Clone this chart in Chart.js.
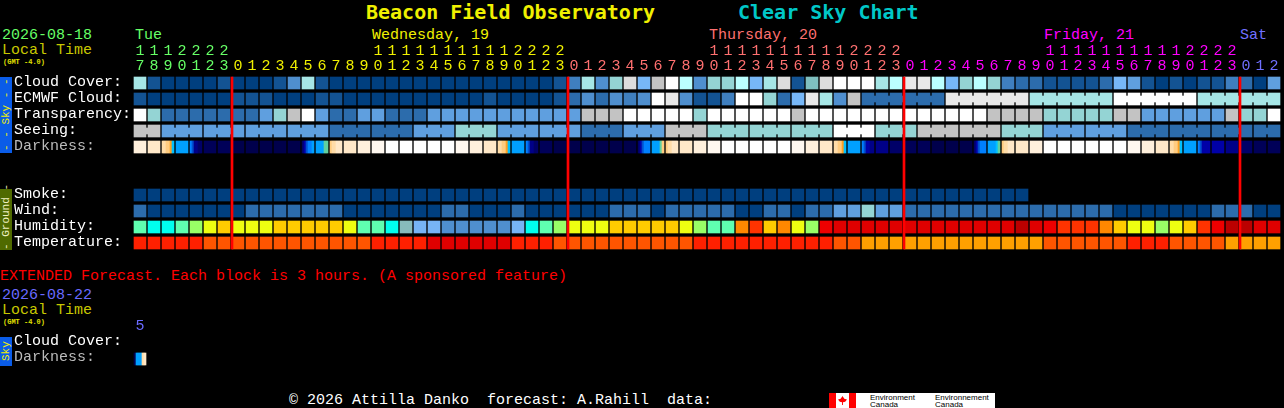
<!DOCTYPE html>
<html>
<head>
<meta charset="utf-8">
<title>Beacon Field Observatory Clear Sky Chart</title>
<script src="https://cdn.jsdelivr.net/npm/chart.js@4/dist/chart.umd.min.js"></script>
<style>
  html, body { margin: 0; background: #000; overflow: hidden; }
  #page { position: relative; width: 1284px; height: 408px; font-family: "Liberation Mono", monospace; font-size: 15px; }
  #page canvas { position: absolute; left: 0; }
  .t { position: absolute; white-space: pre; line-height: 15px; }
  .title { font-family: "DejaVu Sans Mono", monospace; font-weight: bold; font-size: 20px; line-height: 24px; }
  .gmt { font-size: 7px; line-height: 8px; font-weight: bold; color: #e0e000; }
  .strip { position: absolute; left: 0; width: 12px; writing-mode: vertical-rl; transform: rotate(180deg); text-align: center; font-size: 11px; line-height: 12px; white-space: pre; }
  .logo { position: absolute; left: 829px; top: 393px; width: 166px; height: 15px; background: #fff; overflow: hidden; }
  .logo div { position: absolute; }
  .logo .w { font: 8px/7px "Liberation Sans", sans-serif; color: #000; white-space: pre; top: 1px; }
</style>
</head>
<body>
<div id="page">
  <div class="t title" style="left:366px;top:0;color:#f0f000">Beacon Field Observatory</div>
  <div class="t title" style="left:738px;top:0;color:#00c8c8">Clear Sky Chart</div>

  <div class="t" style="left:2px;top:28px;color:#66ff66">2026-08-18</div>
  <div class="t" style="left:2px;top:43px;color:#c8c800">Local Time</div>
  <div class="t gmt" style="left:3px;top:58px">(GMT -4.0)</div>
  <div class="t" style="left:135px;top:28px;color:#66ff66">Tue</div>
  <div class="t" style="left:372px;top:28px;color:#f0f000">Wednesday, 19</div>
  <div class="t" style="left:709px;top:28px;color:#ff7070">Thursday, 20</div>
  <div class="t" style="left:1044px;top:28px;color:#ff00ff">Friday, 21</div>
  <div class="t" style="left:1240px;top:28px;color:#7070ff">Sat</div>

  <div class="strip" style="top:77px;height:76px;background:#0a5ce8;color:#f0f000">- - Sky - -</div>
  <div class="strip" style="top:189px;height:61px;background:#4f6a00;color:#f0f0c0">- Ground -</div>

  <canvas id="forecast" width="1284" height="252" style="top:0"></canvas>

  <div class="t" style="left:0;top:269px;color:#ff0000">EXTENDED Forecast. Each block is 3 hours. (A sponsored feature)</div>
  <div class="t" style="left:2px;top:288px;color:#6a6aff">2026-08-22</div>
  <div class="t" style="left:2px;top:303px;color:#c8c800">Local Time</div>
  <div class="t gmt" style="left:3px;top:318px">(GMT -4.0)</div>
  <div class="strip" style="top:337px;height:29px;background:#0a5ce8;color:#f0f000">Sky</div>

  <canvas id="extended" width="1284" height="68" style="top:300px"></canvas>

  <div class="t" style="left:289px;top:393px;color:#fff">© 2026 Attilla Danko  forecast: A.Rahill  data:</div>
  <div class="logo">
    <div style="left:0;top:0;width:7px;height:15px;background:#f00"></div>
    <div style="left:20px;top:0;width:7px;height:15px;background:#f00"></div>
    <div style="left:9px;top:3px;width:9px;height:9px;background:#f00;clip-path:polygon(50% 0,70% 30%,100% 40%,80% 65%,55% 70%,55% 100%,45% 100%,45% 70%,20% 65%,0 40%,30% 30%)"></div>
    <div class="w" style="left:41px">Environment
Canada</div>
    <div class="w" style="left:106px">Environnement
Canada</div>
  </div>
</div>

<script>
const hours = [17,18,19,20,21,22,23,
  0,1,2,3,4,5,6,7,8,9,10,11,12,13,14,15,16,17,18,19,20,21,22,23,
  0,1,2,3,4,5,6,7,8,9,10,11,12,13,14,15,16,17,18,19,20,21,22,23,
  0,1,2,3,4,5,6,7,8,9,10,11,12,13,14,15,16,17,18,19,20,21,22,23,
  0,1,2]
const midnights = [7, 31, 55, 79]
const dayColors = ['#66ff66', '#f0f000', '#ff7070', '#ff00ff', '#7070ff']

const rowNames = ['Cloud Cover:', 'ECMWF Cloud:', 'Transparency:', 'Seeing:', 'Darkness:', '', '', 'Smoke:', 'Wind:', 'Humidity:', 'Temperature:']

// sky colours, dark blue = clear to white = bad
const skyColors = ['#003f7f', '#135393', '#2c6cac', '#3f7fbf', '#4f8fcf', '#5f9fdf', '#77b7f7', '#94d4d4',
  '#a6e6e6', '#bbffff', '#7fbfbf', '#c3c3c3', '#dddddd', '#e8e8e8', '#ffffff']
const humidityColors = ['#4f8fcf', '#77b4f5', '#88bbbb', '#00ffee', '#5fffb0', '#99ff66', '#eeff11', '#ffcc00',
  '#ff8800', '#ff3300', '#ee0000', '#e00000', '#bb0000']
const temperatureColors = ['#e00000', '#ff2000', '#ff5500', '#ffa000']
const darknessColors = ['#ffffff', '#fff8f0', '#fff0dc', '#ffe8c8', '#ffdca8', '#ffcc80', '#ffa020', '#00a0ff', '#0080ff',
  '#0050d0', '#0000a8', '#000088', '#000068', '#000058', '#00004c', '#60d0a0', '#00c0ff']

const cloudCover = [8,1,0,0,0,0,1,0,0,0, 1,4,8,1,0,0,0,0,0,0, 0,0,0,0,0,0,0,0,0,0,
  1,3,8,4,7,12,6,11,14,9, 4,7,7,9,6,8,12,1,10,12, 14,14,14,8,9,13,13,9,6,7,
  9,7,3,2,2,1,1,1,1,2, 6,5,1,0,1,0,1,1,3,2,0,5]
const ecmwfCloud = [1,0,0,0,0,0,0,1,1,1, 0,0,0,1,1,0,0,0,0,0, 0,0,0,0,0,1,0,0,0,0,
  1,2,4,2,4,3,4,14,13,4, 1,1,3,14,14,7,2,6,13,8, 4,11,
  2,2,2,2,2,2, 13,13,13,13,13,13, 8,8,8,8,8,8, 14,14,14,14,14,14, 8,8,8,8,8,8]
const transparency = [14,7,2,2,2,2,2,2,2,5, 7,11,14,5,2,2,5,5,2,2, 2,5,5,5,5,5,5,5,5,5,
  5,5,11,11,11,14,14,14,14,14, 7,14,14,14,14,14,14,11,14,14, 14,14,14,14,14,14,14,14,14,14,
  14,11,11,11,11,7,7,7,7,7, 11,11,5,5,5,5,5,5,11,7,7,14]
const seeing = [11,11, 5,5,5, 5,5,5, 5,5,5, 5,5,5, 2,2,2, 2,2,2, 5,5,5, 7,7,7, 5,5,5, 5,5,5, 2,2,2, 5,5,5,
  11,11,11, 7,7,7, 7,7,7, 7,7,7, 14,14,14, 7,7,7, 11,11,11, 11,11,11, 7,7,7, 5,5,5, 5,5,5, 2,2,2, 2,2,2, 2,2,2, 2,2]
// columns that share one forecast block
const seeingRuns = [2,3,3,3,3,3,3,3,3,3,3,3,3,3,3,3,3,3,3,3,3,3,3,3,3,3,3,2]
const ecmwfRuns = [1,1,1,1,1,1,1,1,1,1,1,1,1,1,1,1,1,1,1,1,1,1,1,1,1,1,
  1,1,1,1,1,1,1,1,1,1,1,1,1,1,1,1,1,1,1,1,1,1,1,1,1,1,6,6,6,6,6]
// one entry per column, an inner list is a column that changes across its width
const darkness = [2,3,[4,4,5,5,6,16],7,[8,9,11,11,12,12],13,13,14,14,14, 14,14,[12,10,9,8,8,7],[7,7,7,7,15,15],[5,4,4,3,3,3],3,2,1,0,0,
  0,0,0,1,2,3,[4,4,5,5,6,16],7,[8,9,11,11,12,12],13, 14,14,14,14,14,14,[12,10,9,8,8,8],[7,7,7,7,15,5],[5,4,4,3,3,3],3,
  2,1,0,0,0,0,0,1,2,3, [4,4,5,5,6,16],7,[8,9,10,10,11,11],11,12,13,13,14,14,14,
  [12,10,9,8,8,8],[7,7,7,7,16,15],[5,4,4,3,3,3],3,2,0,0,0,0,0, 0,1,2,3,[4,4,5,5,6,16],7,[8,9,10,10,10,10],10,11,12,13,13]
const smoke = [0,0,0,0,0,0,0,0,0,0, 0,0,0,0,0,0,0,0,0,0, 0,0,0,0,0,0,0,0,0,0, 0,0,0,0,0,0,0,0,0,0,
  0,0,0,0,0,0,0,0,0,0, 0,0,0,0,0,0,0,0,0,0, 0,0,0,0]
const wind = [2,0,0,0,0,0,0,0,2,2, 2,2,2,2,2,0,0,0,0,0, 0,0,2,2,0,0,0,2,0,0,
  0,0,0,0,2,2,2,0,2,2, 2,2,2,0,0,2,2,0,2,2, 5,5,7,5,5,2,2,2,2,2,
  2,2,2,2,2,2,2,2,2,2, 0,0,0,0,0,0,0,2,2,2,0,0]
const humidity = [4,3,3,4,5,6,7,6,6,6, 7,7,7,7,7,6,4,4,3,2, 1,1,0,0,0,0,0,1,3,4,
  5,6,6,6,7,7,7,7,7,6, 5,4,4,8,9,7,8,6,5,10, 11,11,11,11,11,11,11,11,11,11,
  11,11,11,12,11,10,9,9,9,8, 7,6,6,5,6,7,9,10,12,12,11,11]
const temperature = [1,1,1,1,1,2,2,2,2,2, 2,2,2,2,2,2,2,1,1,1, 1,0,0,0,0,0,0,1,1,1,
  2,2,2,2,2,2,2,2,2,2, 1,1,1,1,1,1,1,1,1,1, 2,2,3,3,3,3,3,3,3,3,
  3,3,3,3,3,2,2,2,2,2, 2,1,1,1,2,2,2,2,3,3,3,3]

const extendedHours = [5]
const extendedRowNames = ['Cloud Cover:', 'Darkness:']
const extendedDarkness = [[14,7,7,7,4,3]]

const FONT = 'Liberation Mono'

function rowDataset(values, row, colors) {
    return {
        data: values.map((v, i) => { return { x: i, y: [row - 0.375, row + 0.375] } }),
        backgroundColor: values.map(v => colors[v]),
        barThickness: 12,
        order: 5
    }
}

// small bridge between the columns of a block, the notches show above and below it
function joinDataset(runs, values, row) {
    const data = []
    const colors = []
    let col = 0
    runs.forEach(run => {
        for (let i = 0; i < run - 1; i++) {
            data.push({ x: col + i + 0.5, y: [row - 0.1875, row + 0.1875] })
            colors.push(skyColors[values[col + i]])
        }
        col += run
    })
    return { data: data, backgroundColor: colors, barThickness: 2, order: 4 }
}

// a column with an inner list is split into thin bars across its width
function darknessDatasets(values, row) {
    const whole = { data: [], backgroundColor: [], barThickness: 12, order: 5 }
    const strips = { data: [], backgroundColor: [], barThickness: 2, order: 5 }
    values.forEach((v, col) => {
        if (!Array.isArray(v)) {
            whole.data.push({ x: col, y: [row - 0.375, row + 0.375] })
            whole.backgroundColor.push(darknessColors[v])
            return
        }
        v.forEach((level, s) => {
            strips.data.push({ x: col + (2 * s - 5) / 14, y: [row - 0.375, row + 0.375] })
            strips.backgroundColor.push(darknessColors[level])
        })
    })
    return [whole, strips]
}

function baseOptions(hourList, names, colorOf, topHeight, labelShift) {
    return {
        responsive: false,
        animation: false,
        devicePixelRatio: 1,
        events: [],
        layout: { padding: { left: 14, right: 3, top: 0, bottom: 1 } },
        datasets: { bar: { grouped: false } },
        plugins: { legend: { display: false }, tooltip: { enabled: false } },
        scales: {
            x: {
                type: 'linear',
                position: 'top',
                offset: false,
                min: -0.5,
                max: 81.5,
                grid: { display: false, drawTicks: false },
                border: { display: false },
                afterBuildTicks: axis => { axis.ticks = hourList.map((h, i) => { return { value: i } }) },
                afterFit: axis => {
                    axis.height = topHeight
                    axis.paddingLeft = 0
                    axis.paddingRight = 0
                },
                ticks: {
                    autoSkip: false,
                    maxRotation: 0,
                    padding: 1,
                    font: { family: FONT, size: 15, lineHeight: '15px' },
                    color: c => colorOf(c.index),
                    callback: (v, i) => {
                        const h = hourList[i]
                        return h > 9 ? [String(h)[0], String(h)[1]] : ['', String(h)]
                    }
                }
            },
            y: {
                type: 'linear',
                reverse: true,
                min: -0.5,
                max: names.length - 0.5,
                grid: { display: false },
                border: { display: false },
                afterBuildTicks: axis => { axis.ticks = names.map((n, i) => { return { value: i } }) },
                afterFit: axis => {
                    axis.width = 119
                    axis.paddingTop = 0
                    axis.paddingBottom = 0
                },
                ticks: {
                    autoSkip: false,
                    crossAlign: 'far',
                    padding: 0,
                    labelOffset: labelShift,
                    font: { family: FONT, size: 15 },
                    color: c => names[c.index] == 'Darkness:' ? '#bbbbbb' : '#ffffff',
                    callback: (v, i) => names[i]
                }
            }
        }
    }
}

function dayColor(i) {
    return dayColors[midnights.filter(m => m <= i).length]
}

new Chart('forecast', {
    type: 'bar',
    data: {
        datasets: [
            {
                data: midnights.map(m => { return { x: m - 3 / 7, y: [-0.375, 10.375] } }),
                backgroundColor: '#ff0000',
                barThickness: 2,
                order: 1
            },
            rowDataset(cloudCover, 0, skyColors),
            rowDataset(ecmwfCloud, 1, skyColors),
            joinDataset(ecmwfRuns, ecmwfCloud, 1),
            rowDataset(transparency, 2, skyColors),
            rowDataset(seeing, 3, skyColors),
            joinDataset(seeingRuns, seeing, 3),
            ...darknessDatasets(darkness, 4),
            rowDataset(smoke, 7, skyColors),
            rowDataset(wind, 8, skyColors),
            rowDataset(humidity, 9, humidityColors),
            rowDataset(temperature, 10, temperatureColors)
        ]
    },
    options: baseOptions(hours, rowNames, dayColor, 75, -1)
})

new Chart('extended', {
    type: 'bar',
    data: {
        datasets: darknessDatasets(extendedDarkness, 1)
    },
    options: baseOptions(extendedHours, extendedRowNames, () => '#6a6aff', 35, -2)
})
</script>
</body>
</html>
